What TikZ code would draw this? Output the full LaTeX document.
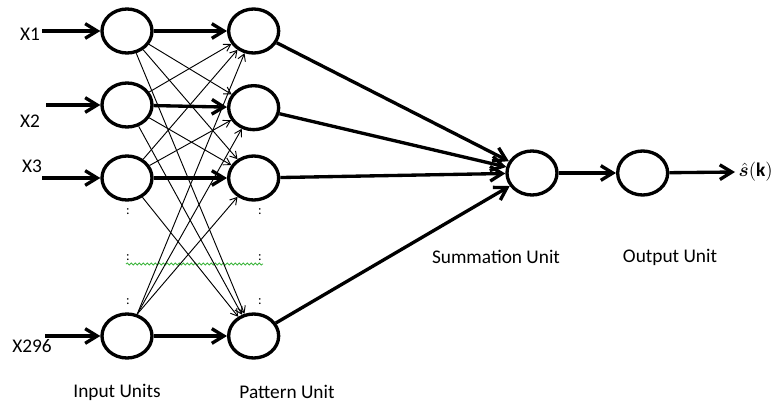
\documentclass[tikz,border=0pt]{standalone}
\usepackage{amsmath,amssymb,bm}
\usepackage{fontspec}
\setmainfont{Carlito}
\usetikzlibrary{arrows.meta,positioning,shapes.geometric,decorations.pathmorphing}
\definecolor{wavy}{HTML}{3CB43C}

\begin{document}
\begin{tikzpicture}[
  x=0.75pt, y=0.75pt,
  unit/.style={draw, ellipse, line width=2.5pt, minimum width=37.5pt,
               minimum height=33pt, inner sep=0pt},
  arr/.style={-{Straight Barb[length=9pt,width=11pt]}, line width=2.5pt},
  thinarr/.style={-{Straight Barb[length=5pt,width=6pt]}, line width=0.7pt},
  lbl/.style={font=\fontsize{14.5}{17}\selectfont, inner sep=1pt},
  vdots/.style={font=\normalsize, inner sep=0pt},
  node distance=55pt
]
  \useasboundingbox (0,0) rectangle (772,405);

  % input units
  \node[unit] (in1) at (127,374) {};
  \node[unit] (in2) at (127,300) {};
  \node[unit] (in3) at (127,227) {};
  \node[unit] (in4) at (127,69) {};

  % pattern units
  \node[unit, right=of in1] (pat1) {};
  \node[unit, right=of in2, yshift=-2pt] (pat2) {};
  \node[unit, right=of in3] (pat3) {};
  \node[unit, right=of in4] (pat4) {};

  % summation and output
  \node[unit] (sum) at (532,232) {};
  \node[unit, right=43pt of sum] (out) {};
  \coordinate (end) at (735,233);
  \node[lbl, anchor=west] (shat) at (737,233) {$\hat{\bm{s}}(\mathbf{k})$};

  % inputs
  \node[lbl] (x1) at (30,371) {X1};
  \node[lbl] (x2) at (30,284) {X2};
  \node[lbl] (x3) at (32,239) {X3};
  \node[lbl] (x296) at (32,59) {X296};
  \coordinate (a1) at (42,374);
  \coordinate (a2) at (46,300);
  \coordinate (a3) at (42,227);
  \coordinate (a4) at (45,69);
  \draw[arr] (a1) -- (in1);
  \draw[arr] (a2) -- (in2);
  \draw[arr] (a3) -- (in3);
  \draw[arr] (a4) -- (in4);

  % dots for the hidden rows
  \node[vdots] (d1) at (128,193) {:};
  \node[vdots] (d2) at (128,147) {:};
  \node[vdots] (d3) at (128,103) {:};
  \node[vdots] (e1) at (260,193) {:};
  \node[vdots] (e2) at (260,147) {:};
  \node[vdots] (e3) at (260,103) {:};
  \draw[wavy, line width=0.6pt, decorate,
        decoration={snake, amplitude=0.8pt, segment length=3pt}] (126,141) -- (263,141);

  % cross connections
  \draw[thinarr] (in1) -- (pat2);
  \draw[thinarr] (in1) -- (pat3);
  \draw[thinarr] (in1) -- (pat4);
  \draw[thinarr] (in2) -- (pat1);
  \draw[thinarr] (in2) -- (pat3);
  \draw[thinarr] (in2) -- (pat4);
  \draw[thinarr] (in3) -- (pat1);
  \draw[thinarr] (in3) -- (pat2);
  \draw[thinarr] (in3) -- (pat4);
  \draw[thinarr] (in4.65) -- (pat1);
  \draw[thinarr] (in4.65) -- (pat2);
  \draw[thinarr] (in4.65) -- (pat3);

  % main paths
  \draw[arr] (in1) -- (pat1);
  \draw[arr] (in2) -- (pat2);
  \draw[arr] (in3) -- (pat3);
  \draw[arr] (in4) -- (pat4);
  \draw[arr] (pat1) -- (sum);
  \draw[arr] (pat2) -- (sum);
  \draw[arr] (pat3) -- (sum);
  \draw[arr] (pat4) -- (sum);
  \draw[arr] (sum) -- (out);
  \draw[arr] (out) -- (end);

  % layer labels
  \node[lbl] (linput) at (117,13) {Input Units};
  \node[lbl] (lpattern) at (287,13) {Pattern Unit};
  \node[lbl] (lsum) at (496,148) {Summation Unit};
  \node[lbl] (lout) at (670,148) {Output Unit};
\end{tikzpicture}
\end{document}
